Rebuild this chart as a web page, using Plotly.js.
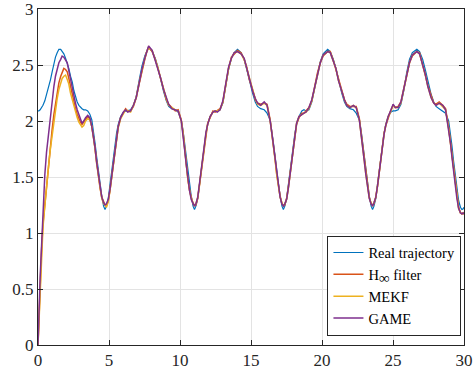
<!DOCTYPE html>
<html>
<head>
<meta charset="utf-8">
<script src="https://cdn.plot.ly/plotly-3.0.1.min.js"></script>
<style>html,body{margin:0;padding:0;background:#fff;}#chart{width:474px;height:373px;}</style>
</head>
<body>
<div id="chart"></div>
<script>
// time samples (s)
const t = [
0, 0.06, 0.15, 0.25, 0.35, 0.48, 0.6, 0.76, 0.88, 1.0,
1.12, 1.23, 1.35, 1.47, 1.6, 1.7, 1.82, 1.94, 2.06, 2.17,
2.29, 2.41, 2.53, 2.64, 2.76, 2.88, 2.99, 3.1, 3.22, 3.35,
3.5, 3.65, 3.79, 3.92, 4.02, 4.13, 4.25, 4.37, 4.49, 4.62,
4.72, 4.82, 4.95, 5.07, 5.19, 5.30, 5.42, 5.53, 5.65, 5.82,
6.02, 6.17, 6.32, 6.52, 6.72, 6.92, 7.12, 7.32, 7.52, 7.66, 7.79,
8.04, 8.26, 8.44, 8.62, 8.85, 9.04, 9.20, 9.42, 9.67, 9.87,
10.09, 10.22, 10.32, 10.44, 10.55, 10.67, 10.79, 10.92, 11.02, 11.12,
11.25, 11.37, 11.49, 11.60, 11.72, 11.83, 11.95, 12.12, 12.32, 12.47,
12.62, 12.82, 13.02, 13.22, 13.42, 13.62, 13.82, 14.05,
14.30, 14.52, 14.70, 14.88, 15.11, 15.30, 15.46, 15.68, 15.93, 16.13,
16.35, 16.48, 16.58, 16.70, 16.81, 16.93, 17.05, 17.18, 17.28, 17.38,
17.51, 17.63, 17.75, 17.86, 17.98, 18.09, 18.21, 18.38, 18.58, 18.73,
18.88, 19.08, 19.28, 19.48, 19.68, 19.88, 20.08, 20.40,
20.58, 20.80, 20.98, 21.16, 21.39, 21.58, 21.74, 21.96, 22.21, 22.41,
22.63, 22.76, 22.86, 22.98, 23.09, 23.21, 23.33, 23.46, 23.56, 23.66,
23.79, 23.91, 24.03, 24.14, 24.26, 24.37, 24.49, 24.66, 24.86, 25.01,
25.16, 25.36, 25.56, 25.76, 25.96, 26.16, 26.36, 26.68,
26.87, 27.09, 27.27, 27.45, 27.68, 27.87, 28.03, 28.25, 28.50, 28.70,
28.92, 29.05, 29.15, 29.27, 29.38, 29.50, 29.62, 29.75, 29.85, 29.93, 30.0
];

const realTrajectory = [
2.09, 2.09, 2.10, 2.12, 2.14, 2.18, 2.23, 2.30, 2.37, 2.44,
2.51, 2.57, 2.61, 2.64, 2.64, 2.62, 2.60, 2.56, 2.52, 2.47,
2.40, 2.35, 2.27, 2.22, 2.17, 2.14, 2.12, 2.11, 2.10, 2.10,
2.09, 2.06, 2.01, 1.91, 1.80, 1.68, 1.55, 1.44, 1.33, 1.24,
1.21, 1.24, 1.31, 1.43, 1.56, 1.68, 1.80, 1.89, 1.97, 2.04,
2.08, 2.085, 2.09, 2.10, 2.14, 2.22, 2.36, 2.49, 2.58, 2.63, 2.66,
2.62, 2.56, 2.48, 2.38, 2.26, 2.18, 2.13, 2.11, 2.10, 2.08,
2.01, 1.91, 1.80, 1.68, 1.55, 1.44, 1.33, 1.24, 1.21, 1.24,
1.31, 1.43, 1.56, 1.68, 1.80, 1.89, 1.97, 2.04, 2.08, 2.085,
2.09, 2.10, 2.16, 2.30, 2.46, 2.56, 2.61, 2.64,
2.61, 2.55, 2.47, 2.37, 2.25, 2.17, 2.13, 2.11, 2.10, 2.07,
2.01, 1.91, 1.80, 1.68, 1.55, 1.44, 1.33, 1.24, 1.21, 1.24,
1.31, 1.43, 1.56, 1.68, 1.80, 1.89, 1.97, 2.04, 2.09, 2.10,
2.09, 2.10, 2.17, 2.29, 2.42, 2.53, 2.60, 2.64,
2.62, 2.55, 2.47, 2.37, 2.25, 2.17, 2.13, 2.11, 2.10, 2.07,
2.01, 1.91, 1.80, 1.68, 1.55, 1.44, 1.33, 1.24, 1.21, 1.24,
1.31, 1.43, 1.56, 1.68, 1.80, 1.89, 1.97, 2.04, 2.08, 2.09,
2.09, 2.10, 2.15, 2.27, 2.43, 2.55, 2.61, 2.64,
2.62, 2.55, 2.46, 2.36, 2.24, 2.17, 2.13, 2.11, 2.09, 2.07,
2.00, 1.89, 1.78, 1.64, 1.51, 1.39, 1.29, 1.23, 1.21, 1.215, 1.23
];

const hInfFilter = [
0, 0.22, 0.55, 0.85, 1.08, 1.26, 1.45, 1.65, 1.80, 1.93,
2.06, 2.16, 2.26, 2.34, 2.40, 2.44, 2.47, 2.46, 2.44, 2.38,
2.31, 2.23, 2.16, 2.11, 2.06, 2.02, 1.99, 1.97, 1.99, 2.02,
2.04, 2.02, 1.95, 1.85, 1.75, 1.63, 1.50, 1.40, 1.32, 1.27,
1.25, 1.24, 1.29, 1.38, 1.50, 1.62, 1.74, 1.85, 1.95, 2.03,
2.08, 2.11, 2.09, 2.09, 2.13, 2.21, 2.33, 2.45, 2.55, 2.62, 2.66,
2.62, 2.55, 2.47, 2.38, 2.29, 2.19, 2.15, 2.12, 2.09, 2.10,
2.01, 1.89, 1.76, 1.62, 1.49, 1.38, 1.31, 1.26, 1.25, 1.25,
1.31, 1.43, 1.56, 1.68, 1.80, 1.90, 1.98, 2.03, 2.09, 2.08,
2.09, 2.11, 2.17, 2.32, 2.47, 2.57, 2.60, 2.63,
2.61, 2.55, 2.48, 2.37, 2.28, 2.19, 2.16, 2.15, 2.16, 2.15,
2.01, 1.89, 1.78, 1.66, 1.53, 1.42, 1.33, 1.26, 1.25, 1.25,
1.31, 1.41, 1.53, 1.66, 1.78, 1.90, 1.97, 2.03, 2.07, 2.07,
2.09, 2.12, 2.18, 2.31, 2.43, 2.52, 2.58, 2.62,
2.62, 2.54, 2.46, 2.37, 2.27, 2.19, 2.15, 2.13, 2.13, 2.13,
2.02, 1.89, 1.78, 1.65, 1.53, 1.41, 1.32, 1.26, 1.25, 1.26,
1.32, 1.42, 1.54, 1.67, 1.79, 1.89, 1.96, 2.03, 2.10, 2.14,
2.12, 2.13, 2.17, 2.29, 2.41, 2.52, 2.58, 2.62,
2.61, 2.51, 2.41, 2.32, 2.22, 2.16, 2.15, 2.17, 2.14, 2.11,
1.94, 1.81, 1.69, 1.55, 1.43, 1.31, 1.23, 1.18, 1.17, 1.17, 1.18
];

const mekf = [
0, 0.20, 0.52, 0.82, 1.05, 1.24, 1.42, 1.62, 1.76, 1.88,
2.00, 2.10, 2.20, 2.28, 2.34, 2.38, 2.40, 2.41, 2.37, 2.33,
2.25, 2.19, 2.12, 2.07, 2.03, 1.99, 1.96, 1.945, 1.96, 2.00,
2.02, 2.01, 1.95, 1.85, 1.75, 1.62, 1.50, 1.40, 1.31, 1.26,
1.25, 1.23, 1.28, 1.38, 1.49, 1.61, 1.74, 1.84, 1.94, 2.02,
2.07, 2.10, 2.09, 2.08, 2.14, 2.21, 2.34, 2.46, 2.56, 2.62, 2.65,
2.63, 2.55, 2.48, 2.39, 2.28, 2.20, 2.14, 2.12, 2.10, 2.09,
2.00, 1.89, 1.76, 1.62, 1.48, 1.39, 1.31, 1.27, 1.24, 1.26,
1.32, 1.43, 1.56, 1.69, 1.80, 1.89, 1.97, 2.04, 2.08, 2.09,
2.09, 2.10, 2.17, 2.32, 2.47, 2.56, 2.61, 2.62,
2.60, 2.55, 2.47, 2.38, 2.27, 2.20, 2.15, 2.14, 2.16, 2.14,
2.00, 1.88, 1.77, 1.65, 1.52, 1.41, 1.32, 1.27, 1.24, 1.26,
1.30, 1.40, 1.52, 1.65, 1.79, 1.89, 1.98, 2.04, 2.06, 2.07,
2.08, 2.11, 2.18, 2.30, 2.42, 2.52, 2.59, 2.62,
2.61, 2.53, 2.47, 2.36, 2.26, 2.19, 2.14, 2.12, 2.14, 2.12,
2.01, 1.89, 1.77, 1.64, 1.52, 1.40, 1.31, 1.27, 1.24, 1.27,
1.32, 1.42, 1.55, 1.67, 1.79, 1.88, 1.96, 2.04, 2.09, 2.14,
2.12, 2.12, 2.16, 2.28, 2.41, 2.52, 2.59, 2.62,
2.60, 2.50, 2.42, 2.31, 2.21, 2.16, 2.14, 2.16, 2.13, 2.10,
1.93, 1.80, 1.68, 1.54, 1.42, 1.30, 1.22, 1.18, 1.17, 1.18, 1.17
];

const game = [
0, 0.31, 0.60, 0.88, 1.18, 1.52, 1.72, 1.92, 2.07, 2.19,
2.31, 2.40, 2.46, 2.52, 2.55, 2.58, 2.57, 2.55, 2.52, 2.45,
2.37, 2.29, 2.22, 2.16, 2.10, 2.05, 2.01, 1.98, 2.00, 2.03,
2.05, 2.03, 1.95, 1.85, 1.76, 1.63, 1.51, 1.41, 1.32, 1.27,
1.25, 1.26, 1.30, 1.39, 1.50, 1.62, 1.75, 1.85, 1.95, 2.03,
2.08, 2.10, 2.08, 2.09, 2.14, 2.21, 2.34, 2.46, 2.56, 2.63, 2.67,
2.63, 2.54, 2.48, 2.39, 2.28, 2.20, 2.15, 2.11, 2.10, 2.09,
2.00, 1.88, 1.75, 1.61, 1.48, 1.38, 1.30, 1.26, 1.24, 1.26,
1.32, 1.44, 1.57, 1.69, 1.81, 1.90, 1.97, 2.04, 2.08, 2.09,
2.08, 2.10, 2.18, 2.33, 2.48, 2.56, 2.61, 2.62,
2.60, 2.56, 2.47, 2.38, 2.27, 2.20, 2.16, 2.14, 2.17, 2.14,
2.00, 1.88, 1.78, 1.65, 1.53, 1.41, 1.32, 1.26, 1.24, 1.26,
1.30, 1.40, 1.52, 1.66, 1.79, 1.90, 1.98, 2.04, 2.06, 2.07,
2.08, 2.12, 2.19, 2.30, 2.42, 2.52, 2.59, 2.62,
2.61, 2.53, 2.47, 2.36, 2.26, 2.19, 2.14, 2.12, 2.14, 2.12,
2.01, 1.89, 1.77, 1.64, 1.52, 1.40, 1.31, 1.26, 1.24, 1.27,
1.32, 1.42, 1.55, 1.67, 1.79, 1.88, 1.96, 2.04, 2.10, 2.15,
2.12, 2.12, 2.17, 2.28, 2.41, 2.52, 2.59, 2.62,
2.60, 2.50, 2.42, 2.31, 2.21, 2.16, 2.14, 2.16, 2.14, 2.10,
1.93, 1.80, 1.68, 1.54, 1.42, 1.31, 1.22, 1.18, 1.17, 1.18, 1.17
];

const seriesNames = ['Real trajectory', 'H<sub><span style="font-size:15px">∞</span></sub> filter', 'MEKF', 'GAME'];
const seriesColors = ['#0072BD', '#D95319', '#EDB120', '#7E2F8E'];
const xTicks = [0, 5, 10, 15, 20, 25, 30];
const yTicks = [0, 0.5, 1, 1.5, 2, 2.5, 3];

const serifFont = 'Times New Roman';

const seriesData = [realTrajectory, hInfFilter, mekf, game];
const traces = seriesData.map((y, i) => ({
  x: t, y: y, type: 'scatter', mode: 'lines', name: seriesNames[i],
  line: {color: seriesColors[i], width: i === 0 ? 1.2 : 1.5}
}));

const axisCommon = {
  ticks: 'inside', ticklen: 5, tickwidth: 1, tickcolor: '#262626',
  showline: true, linecolor: '#262626', linewidth: 1, mirror: 'ticks',
  showgrid: true, gridcolor: '#e3e3e3', gridwidth: 1, zeroline: false,
  ticklabeloverflow: 'allow',
  tickfont: {family: serifFont, size: 17, color: '#262626'}
};

const layout = {
  width: 474, height: 373,
  margin: {l: 38, r: 10, t: 9, b: 28},
  paper_bgcolor: '#ffffff', plot_bgcolor: '#ffffff',
  font: {family: serifFont, size: 15, color: '#000000'},
  xaxis: Object.assign({}, axisCommon, {range: [0, 30], tickvals: xTicks}),
  yaxis: Object.assign({}, axisCommon, {range: [0, 3], tickvals: yTicks}),
  showlegend: true,
  legend: {
    x: 0.994, y: 0.028, xanchor: 'right', yanchor: 'bottom',
    bordercolor: '#262626', borderwidth: 1, bgcolor: '#ffffff',
    font: {family: serifFont, size: 14.5, color: '#000000'},
    itemwidth: 30, tracegroupgap: 0
  }
};

Plotly.newPlot('chart', traces, layout, {displayModeBar: false, staticPlot: true});
</script>
</body>
</html>
